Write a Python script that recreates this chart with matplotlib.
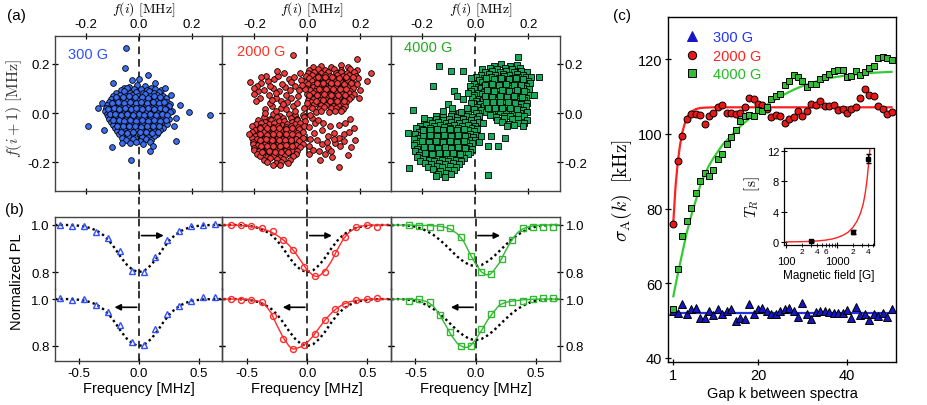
import numpy as np
import matplotlib.pyplot as plt
from matplotlib.lines import Line2D
from matplotlib.ticker import FixedLocator, FuncFormatter

plt.rcParams['font.family'] = ['Liberation Sans', 'DejaVu Sans']
plt.rcParams['mathtext.fontset'] = 'cm'
plt.rcParams['axes.unicode_minus'] = False

# ---------------- panel (a): consecutive line positions f(i), f(i+1) in kHz
blue_pts = [
    (-38, 108), (-8, 116), (22, 111), (48, 104), (-55, 100),
    (-68, 95), (-44, 101), (-19, 96), (7, 99), (31, 94), (60, 97), (84, 92),
    (-86, 83), (-57, 88), (-33, 81), (-11, 86), (16, 83), (39, 89), (57, 80), (77, 86),
    (-96, 70), (-71, 75), (-49, 68), (-27, 74), (-4, 70), (23, 76), (44, 69), (69, 73), (93, 68),
    (-104, 58), (-81, 63), (-60, 57), (-39, 62), (-17, 59), (9, 63), (31, 56), (53, 61), (76, 58), (101, 62),
    (-113, 46), (-89, 51), (-67, 45), (-44, 49), (-21, 46), (1, 52), (21, 45), (43, 50), (65, 47), (86, 52), (108, 44),
    (-119, 34), (-97, 39), (-74, 33), (-54, 38), (-31, 35), (-9, 40), (13, 33), (36, 38), (56, 35), (79, 40), (97, 33), (118, 37),
    (-124, 22), (-104, 27), (-84, 21), (-61, 26), (-41, 23), (-19, 28), (6, 22), (26, 27), (49, 21), (71, 26), (91, 23), (113, 28),
    (-129, 10), (-107, 15), (-87, 9), (-67, 14), (-47, 11), (-27, 16), (-5, 10), (16, 15), (39, 9), (59, 14), (83, 11), (103, 15), (126, 9),
    (-121, -2), (-99, 3), (-79, -3), (-57, 2), (-37, -1), (-14, 4), (9, -2), (31, 3), (51, -3), (73, 2), (93, -1), (116, 4),
    (-116, -14), (-94, -9), (-74, -15), (-51, -10), (-29, -13), (-7, -8), (15, -14), (37, -9), (61, -15), (81, -10), (104, -13),
    (-111, -26), (-87, -21), (-65, -27), (-43, -22), (-21, -25), (1, -20), (23, -26), (46, -21), (69, -27), (91, -22), (113, -25),
    (-104, -38), (-84, -33), (-61, -39), (-39, -34), (-17, -37), (6, -32), (29, -38), (51, -33), (73, -39), (96, -34),
    (-97, -50), (-75, -45), (-54, -51), (-31, -46), (-9, -49), (13, -44), (36, -50), (59, -45), (81, -51), (106, -46),
    (-89, -62), (-67, -57), (-44, -63), (-21, -58), (1, -61), (26, -56), (49, -62), (71, -57), (93, -61),
    (-81, -74), (-57, -69), (-34, -75), (-11, -70), (13, -73), (36, -68), (59, -74), (81, -70),
    (-74, -87), (-49, -82), (-24, -88), (-1, -83), (23, -86), (46, -81), (69, -87),
    (-64, -100), (-39, -95), (-14, -101), (11, -96), (33, -99), (56, -94),
    (-49, -112), (-21, -107), (6, -113), (29, -108), (47, -111),
    (-34, -124), (-9, -119), (16, -125), (41, -120),
    (-85, 66), (-61, 64), (-38, 68), (-15, 65), (12, 67), (34, 63), (57, 68), (80, 64),
    (-100, 42), (-79, 44), (-56, 41), (-34, 43), (-12, 41), (10, 45), (32, 42), (54, 44), (76, 41), (96, 45),
    (-115, 18), (-95, 20), (-74, 17), (-52, 19), (-31, 17), (-9, 21), (13, 18), (35, 20), (57, 16), (79, 20), (99, 17),
    (-110, -6), (-88, -4), (-66, -7), (-45, -5), (-23, -8), (-1, -4), (21, -7), (43, -5), (65, -8), (87, -5), (108, -7),
    (-98, -30), (-76, -28), (-54, -31), (-32, -29), (-10, -32), (12, -28), (34, -31), (57, -29), (80, -32), (102, -29),
    (-82, -54), (-60, -52), (-37, -55), (-14, -53), (8, -56), (31, -52), (54, -55), (77, -53),
    (-67, -78), (-44, -80), (-20, -77), (4, -79), (28, -78), (51, -80), (72, -77),
    (-49, 265), (-52, 185), (-96, 121), (-26, 133), (0, 137), (36, 154), (60, 124), (98, 100),
    (120, 72), (157, 34), (189, 4), (269, -7), (-153, 19), (-191, -53), (-132, -71), (-100, -139),
    (-29, -193), (42, -155), (54, -135), (140, -116), (132, -53), (-65, -121), (140, -20), (-140, 40),
]

red_pts = [
    # upper right cluster
    (22, 188), (53, 193), (91, 186), (127, 195), (154, 189),
    (6, 176), (40, 181), (68, 175), (102, 180), (129, 174), (163, 179), (186, 176),
    (2, 163), (24, 168), (52, 162), (77, 167), (107, 164), (126, 169), (151, 162), (176, 166),
    (-6, 150), (19, 155), (40, 149), (67, 154), (86, 151), (112, 156), (133, 150), (159, 153), (183, 149),
    (7, 142), (28, 137), (54, 141), (73, 138), (99, 143), (118, 137), (145, 141), (163, 138), (191, 142),
    (-9, 126), (17, 131), (36, 127), (62, 130), (80, 125), (107, 129), (126, 126), (152, 131), (170, 127),
    (4, 118), (23, 113), (50, 117), (68, 114), (94, 119), (113, 115), (140, 118), (158, 113), (186, 117),
    (-4, 102), (20, 107), (38, 101), (64, 105), (83, 102), (110, 106), (128, 101), (154, 105), (173, 103),
    (9, 94), (28, 89), (54, 93), (73, 90), (99, 95), (118, 91), (145, 93), (163, 89),
    (-2, 78), (22, 83), (40, 77), (67, 82), (86, 79), (112, 83), (130, 78), (157, 81), (176, 77),
    (12, 70), (30, 65), (57, 69), (76, 66), (102, 71), (120, 67), (147, 70), (166, 65),
    (2, 54), (20, 59), (47, 55), (66, 58), (92, 53), (110, 57), (137, 55), (156, 58),
    (13, 46), (40, 42), (58, 47), (84, 43), (103, 46), (130, 41), (148, 45),
    (7, 30), (26, 35), (52, 31), (70, 34), (97, 29), (116, 33), (142, 30),
    (16, 22), (44, 18), (63, 23), (90, 19), (108, 21), (134, 17),
    (32, 6), (53, 10), (82, 5), (103, 9), (127, 7),
    (42, 147), (68, 145), (95, 148), (120, 144), (147, 147), (172, 145),
    (35, 122), (61, 124), (88, 121), (114, 123), (140, 120), (165, 124),
    (44, 98), (70, 97), (96, 99), (122, 96), (148, 98),
    (38, 74), (64, 76), (90, 73), (116, 75), (142, 72),
    (33, 50), (59, 52), (85, 49), (111, 51), (137, 48),
    (189, 219), (239, 165), (226, 129), (200, 95), (195, 60),
    # lower left cluster
    (-128, -6), (-102, -11), (-70, -4), (-47, -9), (-18, -7),
    (-163, -18), (-142, -23), (-113, -17), (-90, -22), (-60, -19), (-40, -24), (-13, -18),
    (-187, -30), (-158, -35), (-137, -29), (-108, -34), (-87, -31), (-58, -36), (-37, -30), (-10, -34),
    (-193, -46), (-174, -41), (-146, -45), (-125, -42), (-96, -47), (-76, -43), (-48, -46), (-27, -41),
    (-207, -54), (-180, -59), (-160, -55), (-131, -58), (-110, -53), (-82, -57), (-62, -54), (-34, -59), (-14, -55),
    (-196, -70), (-177, -65), (-148, -69), (-128, -66), (-99, -71), (-79, -67), (-51, -70), (-31, -65),
    (-210, -78), (-183, -83), (-162, -79), (-134, -82), (-113, -77), (-85, -81), (-65, -78), (-38, -83), (-18, -79),
    (-198, -94), (-178, -89), (-150, -93), (-130, -90), (-102, -95), (-82, -91), (-54, -94), (-34, -89),
    (-208, -102), (-189, -107), (-161, -103), (-141, -106), (-112, -101), (-92, -105), (-64, -102), (-44, -107), (-18, -103),
    (-205, -118), (-177, -113), (-157, -117), (-129, -114), (-109, -119), (-81, -115), (-61, -118), (-33, -113),
    (-206, -126), (-187, -131), (-158, -127), (-138, -130), (-110, -125), (-90, -129), (-62, -126), (-42, -131), (-16, -127),
    (-200, -142), (-171, -137), (-151, -141), (-123, -138), (-103, -143), (-75, -139), (-55, -142), (-28, -137),
    (-203, -150), (-182, -155), (-154, -151), (-134, -154), (-106, -149), (-86, -153), (-58, -150), (-40, -155),
    (-188, -166), (-167, -161), (-139, -165), (-119, -162), (-91, -167), (-71, -163), (-44, -166),
    (-180, -174), (-151, -179), (-131, -175), (-103, -178), (-83, -173), (-55, -177),
    (-163, -190), (-142, -185), (-113, -189), (-92, -186), (-66, -190),
    (-152, -198), (-120, -203), (-100, -199), (-73, -202),
    (-128, -214), (-102, -210),
    (-178, -62), (-154, -60), (-130, -63), (-106, -61), (-82, -64), (-58, -61),
    (-178, -86), (-154, -88), (-130, -85), (-106, -87), (-82, -84), (-58, -87),
    (-180, -110), (-156, -108), (-132, -111), (-108, -109), (-84, -112), (-60, -110),
    (-176, -134), (-152, -136), (-128, -133), (-104, -135), (-80, -132), (-56, -134),
    (-170, -158), (-146, -156), (-122, -159), (-98, -157), (-74, -160),
    (-219, -87),
    # upper left cluster
    (-215, 128), (-186, 90), (-203, 76), (-174, 124), (-150, 132), (-125, 140), (-110, 150),
    (-89, 165), (-70, 140), (-50, 148), (-29, 165), (-22, 135), (-45, 110), (-35, 70),
    (-60, 62), (-75, 45), (-133, 29), (-158, 15), (-161, 1), (-140, 40), (-100, 50),
    (-120, 60), (-145, 75), (-165, 95), (-130, 100), (-105, 90), (-85, 105), (-65, 95),
    (-95, 120), (-140, 110), (-118, 80), (-80, 75), (-190, 110), (-178, 60), (-195, 50),
    (-55, 30), (-40, 40), (-100, 20), (-120, 10), (-80, 15), (-30, 95), (-60, 125),
    (-155, 150), (-115, 170), (-175, 145), (-200, 100), (-135, 55), (-90, 35), (-45, 10),
    (-53, 237),
    # lower right cluster
    (18, -19), (30, -39), (40, -28), (8, -56), (24, -80), (55, -69), (78, -94), (99, -80),
    (118, -100), (137, -87), (156, -78), (175, -60), (162, -26), (143, -39), (106, -121),
    (80, -141), (55, -128), (43, -155), (68, -169), (90, -155), (125, -135), (153, -173),
    (49, -192), (121, -220), (181, -112), (11, -107), (8, -135), (5, -169), (35, -110),
    (95, -178), (60, -40), (85, -55), (120, -50), (140, -115), (100, -105), (20, -150),
    (165, -140), (75, -120),
    (-8, 97), (5, 75), (-14, 22), (-2, 40), (12, -8), (-20, 115),
]

green_pts = [
    # upper right cluster
    (72, 193), (98, 198), (132, 192), (158, 197),
    (26, 180), (57, 185), (83, 179), (114, 184), (138, 180), (170, 183),
    (36, 168), (64, 173), (94, 167), (116, 172), (147, 168), (171, 171), (196, 167),
    (20, 156), (52, 161), (76, 155), (106, 160), (128, 157), (159, 159), (181, 156),
    (3, 148), (34, 143), (58, 147), (88, 144), (110, 149), (140, 143), (163, 148), (193, 145), (211, 147),
    (15, 136), (40, 131), (72, 135), (94, 132), (124, 137), (148, 131), (178, 135), (199, 132),
    (-6, 120), (27, 125), (50, 119), (82, 124), (104, 121), (134, 126), (158, 120), (187, 124), (207, 121),
    (-18, 112), (10, 107), (34, 111), (64, 108), (88, 113), (118, 109), (140, 112), (170, 107), (193, 111),
    (-6, 96), (22, 101), (44, 95), (75, 100), (98, 97), (128, 102), (150, 96), (180, 100), (202, 97),
    (-17, 88), (12, 83), (34, 87), (64, 84), (86, 89), (116, 85), (138, 88), (168, 83), (190, 87),
    (-4, 72), (24, 77), (46, 71), (77, 76), (98, 73), (129, 78), (151, 72), (182, 76), (208, 73),
    (-14, 64), (14, 59), (36, 63), (66, 60), (88, 65), (118, 61), (140, 64), (170, 59), (193, 63),
    (2, 48), (28, 53), (50, 47), (80, 52), (102, 49), (132, 54), (154, 48), (184, 52),
    (-10, 40), (17, 35), (40, 39), (70, 36), (92, 41), (122, 37), (144, 40), (174, 35), (196, 39),
    (7, 24), (34, 29), (56, 23), (87, 28), (108, 25), (138, 30), (160, 24), (190, 28),
    (-6, 16), (22, 11), (46, 15), (77, 12), (98, 17), (128, 13), (150, 16), (180, 11),
    (12, 0), (40, 5), (63, -1), (94, 4), (116, 1), (147, 6), (168, 0), (197, 4),
    (57, -10), (80, -15), (110, -11), (132, -14), (162, -9), (184, -13),
    (82, -27), (108, -22), (140, -26), (163, -23), (194, -27),
    (102, -38), (128, -43), (160, -39), (183, -42),
    (120, -54), (148, -50), (182, -55),
    (42, 141), (70, 139), (98, 142), (126, 139), (154, 141), (182, 138),
    (36, 116), (62, 118), (90, 115), (118, 117), (146, 114), (174, 116),
    (44, 92), (72, 90), (100, 93), (128, 90), (156, 92), (184, 89),
    (38, 68), (64, 66), (92, 69), (120, 66), (148, 68), (176, 65),
    (40, 44), (66, 46), (94, 43), (122, 45), (150, 42),
    (48, 20), (74, 22), (102, 19), (130, 21), (158, 18),
    # lower left cluster
    (-88, -4), (-62, 1), (-28, -3), (2, 0),
    (-148, -12), (-122, -17), (-90, -13), (-67, -16), (-36, -11), (-14, -15), (14, -12),
    (-173, -28), (-150, -23), (-120, -27), (-98, -24), (-68, -29), (-46, -25), (-16, -28), (6, -23),
    (-192, -36), (-163, -41), (-142, -37), (-112, -40), (-90, -35), (-60, -39), (-38, -36), (-8, -41), (13, -37),
    (-208, -52), (-185, -47), (-155, -51), (-133, -48), (-103, -53), (-81, -49), (-51, -52), (-29, -47), (0, -51),
    (-223, -60), (-200, -65), (-170, -61), (-148, -64), (-118, -59), (-96, -63), (-66, -60), (-44, -65), (-14, -61), (8, -64),
    (-214, -76), (-184, -71), (-162, -75), (-132, -72), (-110, -77), (-80, -73), (-58, -76), (-28, -71), (-6, -75),
    (-228, -84), (-205, -89), (-175, -85), (-153, -88), (-123, -83), (-101, -87), (-71, -84), (-49, -89), (-19, -85), (3, -88),
    (-217, -100), (-187, -95), (-165, -99), (-135, -96), (-113, -101), (-83, -97), (-61, -100), (-31, -95), (-9, -99),
    (-233, -108), (-210, -113), (-180, -109), (-158, -112), (-128, -107), (-106, -111), (-76, -108), (-54, -113), (-24, -109), (-2, -112),
    (-222, -124), (-192, -119), (-170, -123), (-140, -120), (-118, -125), (-88, -121), (-66, -124), (-36, -119), (-14, -123), (16, -120),
    (-230, -132), (-208, -137), (-178, -133), (-156, -136), (-126, -131), (-104, -135), (-74, -132), (-52, -137), (-22, -133),
    (-220, -148), (-190, -143), (-168, -147), (-138, -144), (-116, -149), (-86, -145), (-64, -148), (-34, -143), (-12, -147),
    (-226, -156), (-204, -161), (-174, -157), (-152, -160), (-122, -155), (-100, -159), (-70, -156), (-48, -161), (-18, -157),
    (-214, -172), (-184, -167), (-162, -171), (-132, -168), (-110, -173), (-80, -169), (-58, -172), (-28, -167),
    (-220, -180), (-198, -185), (-168, -181), (-146, -184), (-116, -179), (-94, -183), (-64, -180), (-42, -185),
    (-207, -196), (-176, -191), (-154, -195), (-124, -192), (-102, -197), (-72, -193), (-52, -196),
    (-188, -204), (-166, -209), (-136, -205), (-114, -208), (-84, -203), (-62, -207),
    (-177, -220), (-146, -215), (-124, -219), (-94, -216), (-72, -221),
    (-158, -230), (-134, -235), (-103, -231), (-82, -234),
    (-142, -248), (-110, -243), (-90, -247),
    (-150, -256), (-116, -260),
    (-198, -68), (-172, -70), (-146, -67), (-120, -69), (-94, -66), (-68, -70), (-42, -67),
    (-196, -92), (-170, -90), (-144, -93), (-118, -91), (-92, -94), (-66, -90), (-40, -93),
    (-200, -116), (-174, -118), (-148, -115), (-122, -117), (-96, -114), (-70, -118), (-44, -116),
    (-194, -140), (-168, -138), (-142, -141), (-116, -139), (-90, -142), (-64, -139), (-38, -141),
    (-188, -164), (-162, -166), (-136, -163), (-110, -165), (-84, -162), (-58, -166),
    # bridge and stragglers
    (-136, 192), (-90, 171), (-158, 110), (-236, 12), (-253, -80), (-250, -226), (50, -252),
    (160, 230), (241, 146), (223, 72), (87, -136), (112, -100), (-192, -19), (-48, 170),
    (-16, 143), (-79, 90), (-102, 35), (-67, 69), (-29, 83), (-48, 56), (-86, 22), (-16, 42),
    (59, -94), (21, -94), (47, -135), (30, -40), (-30, 20), (-55, 5), (-120, 8),
]

fields = ['300 G', '2000 G', '4000 G']

# ---------------- panel (b): normalized PL spectra, up / down sweeps
b_blue_f = [-0.658, -0.561, -0.456, -0.356, -0.261, -0.158, -0.056, 0.044, 0.133, 0.231, 0.333, 0.431, 0.531, 0.633]
b_blue_up = [1.0, 0.997, 0.997, 0.971, 0.945, 0.888, 0.806, 0.800, 0.865, 0.938, 0.974, 0.996, 1.001, 1.006]
b_blue_dn = [1.004, 0.997, 1.0, 0.976, 0.946, 0.891, 0.816, 0.806, 0.872, 0.936, 0.972, 0.991, 1.007, 1.008]

b_red_f = [-0.633, -0.55, -0.467, -0.378, -0.286, -0.2, -0.117, -0.028, 0.061, 0.144, 0.233, 0.317, 0.408, 0.497, 0.581]
b_red_up = [1.0, 1.0, 0.997, 0.989, 0.974, 0.938, 0.895, 0.823, 0.782, 0.801, 0.882, 0.949, 0.991, 0.999, 0.991]
b_red_dn = [0.999, 0.994, 0.996, 0.989, 0.926, 0.831, 0.787, 0.804, 0.852, 0.912, 0.956, 0.98, 0.994, 0.999, 1.003]

b_green_f = [-0.556, -0.472, -0.381, -0.297, -0.214, -0.122, -0.039, 0.044, 0.128, 0.217, 0.306, 0.392, 0.481, 0.564, 0.647]
b_green_up = [1.001, 0.994, 0.991, 0.99, 0.986, 0.948, 0.867, 0.799, 0.79, 0.857, 0.938, 0.986, 0.993, 0.993, 0.993]
b_green_dn = [0.99, 1.0, 0.989, 0.933, 0.858, 0.799, 0.801, 0.871, 0.936, 0.984, 0.987, 0.99, 1.0, 1.003, 1.003]

# reference (unshifted) line shape, dotted
ref_f = [-0.7, -0.65, -0.6, -0.55, -0.5, -0.45, -0.4, -0.35, -0.3, -0.25, -0.2, -0.15, -0.1, -0.05, 0.0,
         0.05, 0.1, 0.15, 0.2, 0.25, 0.3, 0.35, 0.4, 0.45, 0.5, 0.55, 0.6, 0.65, 0.7]
ref_br = [1.0, 1.0, 1.0, 0.999, 0.997, 0.993, 0.986, 0.975, 0.958, 0.933, 0.9, 0.862, 0.83, 0.808, 0.8,
          0.808, 0.83, 0.862, 0.9, 0.933, 0.958, 0.975, 0.986, 0.993, 0.997, 0.999, 1.0, 1.0, 1.0]
ref_g = [1.0, 1.0, 0.999, 0.997, 0.993, 0.985, 0.973, 0.958, 0.938, 0.915, 0.89, 0.865, 0.845, 0.83, 0.825,
         0.83, 0.845, 0.865, 0.89, 0.915, 0.938, 0.958, 0.973, 0.985, 0.993, 0.997, 0.999, 1.0, 1.0]

# fitted shifted lines, solid
fit_red_up_f = [-0.7, -0.6, -0.5, -0.4, -0.35, -0.3, -0.25, -0.2, -0.15, -0.1, -0.05, 0.0, 0.05, 0.08, 0.1,
                0.15, 0.2, 0.25, 0.3, 0.35, 0.4, 0.45, 0.5, 0.6, 0.7]
fit_red_up = [1.0, 0.999, 0.996, 0.988, 0.98, 0.97, 0.955, 0.937, 0.913, 0.882, 0.845, 0.808, 0.785, 0.781, 0.784,
              0.806, 0.845, 0.895, 0.94, 0.97, 0.987, 0.995, 0.999, 1.0, 1.0]
fit_red_dn_f = [-0.7, -0.6, -0.5, -0.45, -0.4, -0.35, -0.3, -0.25, -0.2, -0.15, -0.12, -0.1, -0.05, 0.0, 0.05,
                0.1, 0.15, 0.2, 0.25, 0.3, 0.35, 0.4, 0.5, 0.6, 0.7]
fit_red_dn = [1.0, 1.0, 0.998, 0.995, 0.99, 0.975, 0.94, 0.885, 0.835, 0.798, 0.787, 0.788, 0.797, 0.815, 0.843,
              0.878, 0.912, 0.94, 0.962, 0.978, 0.988, 0.994, 0.999, 1.0, 1.0]
fit_green_up_f = [-0.7, -0.5, -0.4, -0.3, -0.25, -0.2, -0.15, -0.1, -0.05, 0.0, 0.05, 0.09, 0.12, 0.15, 0.2,
                  0.25, 0.3, 0.35, 0.4, 0.45, 0.5, 0.6, 0.7]
fit_green_up = [1.0, 0.999, 0.998, 0.995, 0.99, 0.98, 0.962, 0.932, 0.882, 0.835, 0.8, 0.788, 0.79, 0.805, 0.84,
                0.89, 0.935, 0.968, 0.985, 0.994, 0.998, 1.0, 1.0]
fit_green_dn_f = [-0.7, -0.5, -0.45, -0.4, -0.35, -0.3, -0.25, -0.2, -0.15, -0.1, -0.07, -0.04, 0.0, 0.05, 0.1,
                  0.15, 0.2, 0.25, 0.3, 0.4, 0.5, 0.7]
fit_green_dn = [1.0, 0.999, 0.996, 0.988, 0.97, 0.935, 0.89, 0.845, 0.81, 0.795, 0.794, 0.802, 0.827, 0.866, 0.91,
                0.945, 0.975, 0.986, 0.991, 0.997, 1.0, 1.0]

# ---------------- panel (c): sigma_A(k) in kHz
gap_k = list(range(1, 51))
sig_300 = [52.6, 52.1, 54.3, 51.8, 53.2, 53.4, 50.7, 50.7, 52.5, 51.6,
           53.2, 51.8, 52.6, 53.2, 49.8, 50.7, 50.3, 54.5, 51.8, 53.2,
           53.4, 52.6, 51.8, 51.8, 52.6, 53.2, 53.4, 52.5, 51.0, 54.8,
           51.8, 50.5, 52.3, 52.6, 52.5, 52.3, 52.1, 51.9, 52.1, 52.8,
           50.7, 53.6, 51.4, 51.8, 50.1, 51.8, 51.2, 52.0, 51.0, 53.0]
sig_2000 = [75.8, 92.8, 99.3, 103.9, 105.3, 105.2, 105.0, 102.7, 104.7, 105.5,
            107.1, 107.6, 105.6, 105.5, 105.4, 105.7, 107.2, 109.6, 109.4, 108.0,
            107.8, 106.7, 104.5, 105.1, 104.9, 103.0, 104.0, 104.5, 106.0, 104.9,
            106.0, 108.0, 107.6, 108.7, 107.4, 107.4, 107.6, 106.3, 106.7, 105.5,
            106.7, 107.2, 109.7, 111.9, 110.5, 110.2, 107.4, 106.7, 105.3, 105.8]
sig_4000 = [53.0, 63.7, 72.7, 76.6, 80.2, 84.1, 87.5, 89.4, 88.8, 90.2,
            93.2, 94.5, 97.3, 99.1, 100.9, 103.5, 104.7, 105.1, 104.9, 106.4,
            106.1, 107.2, 109.4, 110.1, 110.7, 113.2, 114.2, 115.7, 115.1, 114.1,
            112.5, 113.4, 113.4, 114.6, 115.3, 116.0, 116.7, 117.0, 117.0, 115.2,
            115.5, 116.9, 115.8, 116.5, 117.7, 118.2, 120.4, 120.5, 120.4, 119.8]

fit_300_k = [1, 50]
fit_300 = [51.9, 51.9]
fit_2000_k = [1, 1.5, 2, 2.5, 3, 3.5, 4, 5, 6, 7, 8, 10, 15, 50]
fit_2000 = [76.5, 86.0, 92.5, 97.0, 100.3, 102.5, 104.2, 105.9, 106.6, 106.9, 107.0, 107.1, 107.1, 107.1]
fit_4000_k = [1, 2, 3, 4, 5, 6, 7, 8, 9, 10, 12, 14, 16, 18, 20, 22, 25, 28, 30, 33, 36, 40, 45, 50]
fit_4000 = [56.5, 62.5, 68.0, 73.5, 78.0, 82.0, 86.0, 89.0, 91.5, 93.5, 97.0, 99.5, 102.0, 104.0, 106.0,
            107.8, 110.0, 111.8, 112.8, 114.0, 114.9, 115.7, 116.3, 116.6]

# inset: T_R vs magnetic field
inset_B = [300, 2000, 4000]
inset_T = [0.1, 1.3, 11.0]
inset_Terr = [0.15, 0.3, 0.6]
inset_fit_B = [100, 200, 300, 400, 600, 800, 1000, 1300, 1600, 2000, 2400, 2800, 3200, 3500, 3800, 4000, 4200, 4350]
inset_fit_T = [0.01, 0.04, 0.08, 0.13, 0.25, 0.4, 0.58, 0.9, 1.25, 1.9, 2.7, 3.7, 5.0, 6.4, 8.2, 9.7, 11.3, 12.4]

# ---------------- styles
scat_fill = ['#3b6ef0', '#f03c3c', '#19a85c']
scat_marker = ['o', 'o', 's']
field_text = ['#2a52ff', '#ff3322', '#22aa22']
b_col = ['#3050ff', '#ff2a2a', '#33b833']
b_mark = ['^', 'o', 's']
c_col = ['#1515c8', '#e81818', '#33bb33']
c_line = ['#2233dd', '#ff2020', '#33cc33']
spine_col = '#444444'

W, H = 927, 406


def box(l, t, r, b):
    return [l / W, 1 - b / H, (r - l) / W, (b - t) / H]


fig = plt.figure(figsize=(W / 100, H / 100), dpi=100)

cols = [(55, 222), (222, 391), (391, 560)]
a_xlim = [(-0.316, 0.314), (-0.322, 0.316), (-0.318, 0.320)]
b_xlim = [(-0.70, 0.69), (-0.711, 0.698), (-0.703, 0.703)]
pts_all = [blue_pts, red_pts, green_pts]
b_data = [(b_blue_f, b_blue_up, b_blue_dn, None, None),
          (b_red_f, b_red_up, b_red_dn, (fit_red_up_f, fit_red_up), (fit_red_dn_f, fit_red_dn)),
          (b_green_f, b_green_up, b_green_dn, (fit_green_up_f, fit_green_up), (fit_green_dn_f, fit_green_dn))]
refs = [ref_br, ref_br, ref_g]
text_pos = [(0.078, 0.884), (0.089, 0.90), (0.079, 0.93)]

dash = (0, (5, 3.2))

for i, (l, r) in enumerate(cols):
    # ---- (a)
    ax = fig.add_axes(box(l, 37, r, 192))
    p = np.array(pts_all[i], dtype=float) / 1000.0
    ax.scatter(p[:, 0], p[:, 1], s=17 if i < 2 else 15, marker=scat_marker[i], c=scat_fill[i],
               edgecolors='k', linewidths=0.6, zorder=3)
    ax.set_xlim(*a_xlim[i])
    ax.set_ylim(-0.318, 0.314)
    ax.set_xticks([-0.2, 0.0, 0.2])
    ax.set_yticks([-0.2, 0.0, 0.2])
    ax.xaxis.set_major_formatter(FuncFormatter(lambda v, pos: '%.1f' % v))
    ax.yaxis.set_major_formatter(FuncFormatter(lambda v, pos: '%.1f' % v))
    ax.tick_params(direction='inout', length=4, width=0.9, color='k', labelsize=9.5,
                   top=True, bottom=True, left=True, right=True,
                   labeltop=True, labelbottom=False, labelleft=(i == 0), labelright=(i == 2), pad=1.5)
    ax.tick_params(axis='x', pad=2)
    for s in ax.spines.values():
        s.set_color(spine_col)
        s.set_linewidth(1.0)
    # top axis title, placed above the tick labels
    ax.text(0.53, (192 - 18.8) / 155, r'$f(i)\ [\mathrm{MHz}]$', transform=ax.transAxes,
            ha='center', va='bottom', fontsize=10)
    ax.axvline(0, ymin=-0.168, ymax=1, color='k', lw=1.1, ls=dash, clip_on=False, zorder=2)
    ax.text(text_pos[i][0], text_pos[i][1], fields[i], transform=ax.transAxes,
            color=field_text[i], fontsize=10.5, va='center', ha='left')

    # ---- (b)
    fx, up, dn, fit_up, fit_dn = b_data[i]
    rows = [(218, 290, (0.728, 1.034), up, fit_up), (290, 362, (0.736, 1.043), dn, fit_dn)]
    for j, (t, b, yl, yv, fit) in enumerate(rows):
        bx = fig.add_axes(box(l, t, r, b))
        bx.plot(ref_f, refs[i], color='k', lw=1.7, ls=(0, (1.0, 1.3)), zorder=2)
        if fit is not None:
            bx.plot(fit[0], fit[1], color=b_col[i], lw=1.0, zorder=3)
        bx.plot(fx, yv, ls='none', marker=b_mark[i], ms=4.6 if i == 0 else 4.3, mfc='none',
                mec=b_col[i], mew=1.0, zorder=4)
        bx.axvline(0, color='k', lw=1.1, ls=dash, zorder=1)
        if j == 0:
            bx.annotate('', xy=(0.205, 0.955), xytext=(0.02, 0.955),
                        arrowprops=dict(arrowstyle='-|>', color='k', lw=1.2, mutation_scale=9,
                                        shrinkA=0, shrinkB=0))
        else:
            bx.annotate('', xy=(-0.205, 0.965), xytext=(-0.02, 0.965),
                        arrowprops=dict(arrowstyle='-|>', color='k', lw=1.2, mutation_scale=9,
                                        shrinkA=0, shrinkB=0))
        bx.set_xlim(*b_xlim[i])
        bx.set_ylim(*yl)
        bx.set_yticks([0.8, 1.0])
        bx.set_xticks([-0.5, 0.0, 0.5])
        bx.xaxis.set_major_formatter(FuncFormatter(lambda v, pos: '%.1f' % v))
        bx.yaxis.set_major_formatter(FuncFormatter(lambda v, pos: '%.1f' % v))
        bx.tick_params(direction='inout', length=4, width=0.9, labelsize=9.5, pad=2,
                       top=False, bottom=(j == 1), left=True, right=True,
                       labelbottom=(j == 1), labelleft=(i == 0), labelright=(i == 2))
        for name, s in bx.spines.items():
            s.set_color(spine_col)
            s.set_linewidth(1.0)
        if j == 0:
            bx.spines['bottom'].set_visible(False)
        else:
            bx.spines['top'].set_visible(False)
            bx.set_xlabel('Frequency [MHz]', fontsize=10.5, labelpad=2)
        bx.patch.set_alpha(0)

fig.text(14 / W, 1 - 108 / H, r'$f(i+1)\ [\mathrm{MHz}]$', rotation=90, ha='center', va='center',
         fontsize=11.5, color='#333333')
fig.text(17 / W, 1 - 282 / H, 'Normalized PL', rotation=90, ha='center', va='center', fontsize=10.5)
fig.text(7 / W, 1 - 16 / H, '(a)', ha='left', va='center', fontsize=11)
fig.text(5 / W, 1 - 210 / H, '(b)', ha='left', va='center', fontsize=11)
fig.text(613 / W, 1 - 16 / H, '(c)', ha='left', va='center', fontsize=11)

# ---- (c)
cx = fig.add_axes(box(668, 18.3, 896, 363))
sig_all = [sig_300, sig_2000, sig_4000]
fit_all = [(fit_300_k, fit_300), (fit_2000_k, fit_2000), (fit_4000_k, fit_4000)]
handles = []
for i in range(3):
    cx.plot(fit_all[i][0], fit_all[i][1], color=c_line[i], lw=1.6, zorder=2)
    cx.plot(gap_k, sig_all[i], ls='none', marker=b_mark[i], ms=5.2 if i == 0 else 5.0,
            mfc=c_col[i], mec='k', mew=0.7, zorder=3)
    handles.append(Line2D([], [], ls='none', marker=b_mark[i], ms=6.5 if i == 0 else 6,
                          mfc=c_col[i], mec='k' if i else c_col[i], mew=0.7))
cx.set_xlim(-0.2, 51)
cx.set_ylim(38.9, 131.2)
cx.set_xticks([1, 20, 40])
cx.set_yticks([40, 60, 80, 100, 120])
cx.tick_params(direction='inout', length=4, width=0.9, labelsize=10.5, top=False, right=False, pad=2)
for s in cx.spines.values():
    s.set_color('k')
    s.set_linewidth(1.0)
cx.set_xlabel('Gap k between spectra', fontsize=10.5, labelpad=3)
cx.set_ylabel(r'$\sigma_{\mathrm{A}}(k)\ \ [\mathrm{kHz}]$', fontsize=14, labelpad=3)
cx.legend(handles, fields, loc='upper left', bbox_to_anchor=(0.01, 1.0), frameon=False,
          fontsize=10.5, handlelength=1.2, handletextpad=0.8, labelspacing=0.3,
          labelcolor=['#2233ff', '#ff2222', '#22bb22'])

# ---- inset
ix = fig.add_axes(box(784, 149, 874, 246))
ix.plot(inset_fit_B, inset_fit_T, color='#ff2020', lw=1.0, zorder=2)
ix.errorbar(inset_B, inset_T, yerr=inset_Terr, fmt='s', ms=3.2, color='k', ecolor='k',
            elinewidth=0.9, capsize=1.8, zorder=3)
ix.set_xscale('log')
ix.set_xlim(91, 5200)
ix.set_ylim(-0.4, 12.4)
ix.set_yticks([0, 4, 8, 12])
ix.xaxis.set_major_locator(FixedLocator([100, 1000]))
ix.xaxis.set_major_formatter(FuncFormatter(lambda v, pos: '%d' % v))
minor_pos = [200, 300, 400, 500, 600, 700, 800, 900, 2000, 3000, 4000, 5000]
minor_lab = {200: '2', 400: '4', 600: '6', 2000: '2', 4000: '4'}
ix.xaxis.set_minor_locator(FixedLocator(minor_pos))
ix.xaxis.set_minor_formatter(FuncFormatter(lambda v, pos: minor_lab.get(int(round(v)), '')))
ix.tick_params(which='major', direction='inout', length=4, width=0.8, labelsize=8, pad=6)
ix.tick_params(which='minor', direction='inout', length=2.5, width=0.6, labelsize=6, pad=1)
ix.tick_params(axis='y', which='major', pad=1.5)
for s in ix.spines.values():
    s.set_color('k')
    s.set_linewidth(0.9)
ix.set_xlabel('Magnetic field [G]', fontsize=8.5, labelpad=2)
ix.set_ylabel(r'$T_R\ \ [\mathrm{s}]$', fontsize=11, labelpad=3)

fig.savefig('out.png', dpi=100)
